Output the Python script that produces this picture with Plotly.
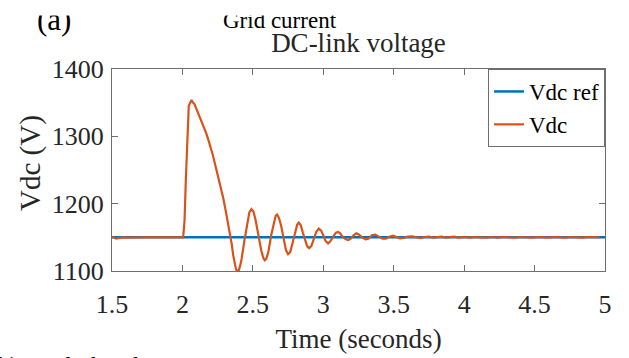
import plotly.graph_objects as go

# ---------------- data ----------------
ref_time = [1.5, 5.0]
ref_vdc = [1150, 1150]

vdc_time = [
    1.50, 1.51, 1.52, 1.53, 1.55, 1.58, 1.62, 1.66, 1.70, 1.74, 1.78, 1.82, 1.86, 1.90, 1.94, 1.98, 2.005,
    2.015, 2.025, 2.035, 2.045, 2.055, 2.065, 2.075, 2.085, 2.095, 2.105, 2.115, 2.125, 2.14, 2.155, 2.17,
    2.185, 2.20, 2.215, 2.23, 2.245, 2.26, 2.275, 2.29, 2.305, 2.32, 2.335, 2.35, 2.36, 2.37, 2.38, 2.39,
    2.40, 2.41, 2.42, 2.44, 2.46, 2.475, 2.49, 2.505, 2.52, 2.54, 2.56, 2.575, 2.585, 2.595, 2.61, 2.63,
    2.65, 2.662, 2.672, 2.685, 2.70, 2.72, 2.735, 2.75, 2.765, 2.78, 2.80, 2.815, 2.826, 2.84, 2.855, 2.87,
    2.885, 2.90, 2.915, 2.93, 2.95, 2.968, 2.985, 3.00, 3.015, 3.034, 3.05, 3.07, 3.09, 3.105, 3.12, 3.14,
    3.16, 3.176, 3.195, 3.215, 3.235, 3.255, 3.275, 3.30, 3.32, 3.345, 3.37, 3.395, 3.42, 3.445, 3.47,
    3.495, 3.52, 3.545, 3.57, 3.60, 3.63, 3.66, 3.69, 3.72, 3.75, 3.78, 3.81, 3.84, 3.87, 3.90, 3.93,
    3.96, 4.00, 4.04, 4.08, 4.12, 4.16, 4.20, 4.24, 4.28, 4.32, 4.36, 4.40, 4.44, 4.48, 4.52, 4.56, 4.60,
    4.64, 4.68, 4.72, 4.76, 4.80, 4.84, 4.88, 4.92, 4.96, 5.00,
]
vdc_value = [
    1151, 1150, 1148, 1148, 1149, 1150, 1149.5, 1150, 1149.5, 1150, 1150, 1149.5, 1150, 1150, 1150.5, 1150, 1150,
    1175, 1240, 1310, 1345, 1350, 1354, 1350, 1348, 1343, 1338, 1333, 1328, 1320, 1312, 1304,
    1294, 1284, 1273, 1260, 1248, 1234, 1222, 1208, 1192, 1176, 1160, 1140, 1124, 1112, 1103, 1099,
    1101, 1108, 1118, 1145, 1172, 1187, 1192, 1188, 1175, 1152, 1130, 1119, 1116, 1118, 1128, 1153,
    1174, 1182, 1184, 1179, 1168, 1146, 1131, 1125, 1128, 1140, 1158, 1169, 1172, 1168, 1157, 1145,
    1137, 1134, 1137, 1146, 1158, 1163, 1160, 1153, 1145, 1141, 1144, 1151, 1157, 1158, 1156, 1150,
    1147, 1146, 1148, 1153, 1156, 1154, 1150, 1147, 1148, 1153, 1154, 1151, 1148, 1148, 1151,
    1152.5, 1150.5, 1148.5, 1149, 1151, 1151.5, 1150, 1149, 1150.5, 1151, 1149.5, 1150, 1151, 1149.5, 1150.5,
    1151, 1149.5, 1150.5, 1149.5, 1150.5, 1150, 1149.5, 1150.5, 1149.5, 1150.5, 1150, 1149.5, 1150.5, 1150, 1149.5, 1150.5, 1150,
    1149.5, 1150.5, 1150, 1149.5, 1150.5, 1150, 1149.5, 1150.5, 1150, 1150,
]

x_tick_vals = [1.5, 2, 2.5, 3, 3.5, 4, 4.5, 5]
x_tick_text = ["1.5", "2", "2.5", "3", "3.5", "4", "4.5", "5"]
y_tick_vals = [1100, 1200, 1300, 1400]
y_tick_text = ["1100", "1200", "1300", "1400"]

# ---------------- figure ----------------
W, H = 629, 358
L, R, T, B = 112, 24, 69, 87
pw, ph = W - L - R, H - T - B


def px(x):
    return (x - L) / pw


def py(y):
    return (H - B - y) / ph


FONT = "Liberation Serif, Times New Roman, serif"
TXT = "#262626"
AX = "#6e6e6e"

fig = go.Figure()
fig.add_trace(go.Scatter(x=ref_time, y=ref_vdc, mode="lines", name="Vdc ref",
                         line=dict(color="#0072BD", width=2.5)))
fig.add_trace(go.Scatter(x=vdc_time, y=vdc_value, mode="lines", name="Vdc",
                         line=dict(color="#D95319", width=2.2)))

axis_common = dict(showline=True, linecolor=AX, linewidth=1, mirror="ticks",
                   ticks="inside", ticklen=6, tickcolor=AX, showgrid=False,
                   zeroline=False, automargin=False,
                   tickfont=dict(family=FONT, size=26, color=TXT))

fig.update_xaxes(range=[1.5, 5], tickvals=x_tick_vals, ticktext=x_tick_text,
                 ticklabelstandoff=10,
                 title=dict(text="Time (seconds)", font=dict(family=FONT, size=27, color=TXT), standoff=10),
                 **axis_common)
fig.update_yaxes(range=[1100, 1400], tickvals=y_tick_vals, ticktext=y_tick_text,
                 ticklabelstandoff=2, **axis_common)

annotations = [
    dict(text="Vdc (V)", x=px(30), y=py(163), textangle=-90, font=dict(family=FONT, size=29, color=TXT)),
    dict(text="(a)", x=px(54), y=py(19), font=dict(family=FONT, size=31, color="#000000")),
    dict(text="Grid current", x=px(280), y=py(20), font=dict(family=FONT, size=23, color="#000000")),
    dict(text="(b) DC-link voltage", x=px(-12), y=py(350), xanchor="left", yanchor="top",
         font=dict(family=FONT, size=24, color="#000000")),
    dict(text=" ", x=px(-10), y=py(0), xanchor="left", yanchor="top",
         width=W + 20, height=12, bgcolor="#ffffff"),
]
for a in annotations:
    a.setdefault("xref", "paper")
    a.setdefault("yref", "paper")
    a.setdefault("showarrow", False)
    a.setdefault("xanchor", "center")
    a.setdefault("yanchor", "middle")

fig.update_layout(
    width=W, height=H,
    margin=dict(l=L, r=R, t=T, b=B, pad=0),
    paper_bgcolor="white", plot_bgcolor="white",
    title=dict(text="DC-link voltage", x=0.5, xref="paper", xanchor="center",
               y=1 - 43 / H, yref="container", yanchor="middle",
               font=dict(family=FONT, size=27, color=TXT)),
    legend=dict(x=1, y=1, xanchor="right", yanchor="top", xref="paper", yref="paper",
                bordercolor=AX, borderwidth=1, bgcolor="white",
                font=dict(family=FONT, size=23, color="#000000"), tracegroupgap=0),
    annotations=annotations,
    showlegend=True,
)

fig.write_html("out.html", config={"displayModeBar": False},
               post_script="document.body.style.margin='0px';")
